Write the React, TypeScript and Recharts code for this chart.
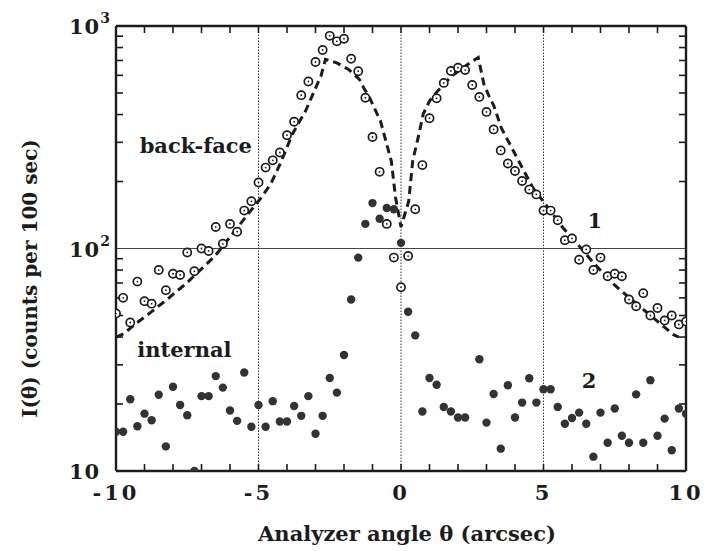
import { ScatterChart, Scatter, XAxis, YAxis, ReferenceLine, ReferenceDot } from 'recharts'

// analyzer angles (arcsec), one reading every 0.25"
const angles = [
  -10, -9.75, -9.5, -9.25, -9, -8.75, -8.5, -8.25, -8, -7.75, -7.5, -7.25, -7, -6.75, -6.5, -6.25,
  -6, -5.75, -5.5, -5.25, -5, -4.75, -4.5, -4.25, -4, -3.75, -3.5, -3.25, -3, -2.75, -2.5, -2.25,
  -2, -1.75, -1.5, -1.25, -1, -0.75, -0.5, -0.25, 0, 0.25, 0.5, 0.75, 1, 1.25, 1.5, 1.75,
  2, 2.25, 2.5, 2.75, 3, 3.25, 3.5, 3.75, 4, 4.25, 4.5, 4.75, 5, 5.25, 5.5, 5.75,
  6, 6.25, 6.5, 6.75, 7, 7.25, 7.5, 7.75, 8, 8.25, 8.5, 8.75, 9, 9.25, 9.5, 9.75, 10,
]

// curve 1: back-face reflection (open circles)
const backFace = [
  51, 60, 46.5, 71, 58, 56.5, 80, 65, 77, 76, 96, 79, 100, 97.5, 125, 105,
  129, 119, 148, 163, 198, 231, 249, 270, 323, 371, 489, 563, 689, 780, 903, 853,
  877, 713, 626, 476, 317, 221, 129, 91, 67, 92.5, 150, 237, 385, 473, 555, 628,
  650, 634, 543, 480, 411, 343, 276, 241, 223, 201, 184, 175, 148, 148, 134, 109,
  111, 89, 99, 80, 91, 75, 77, 75, 59, 55, 63, 50, 54, 47.5, 50, 45.6, 47,
]

// curve 2: internal reflection (filled dots)
const internal = [
  15, 15, 21, 15.9, 18.1, 16.9, 22, 12.9, 23.9, 19.8, 17.8, 10, 21.7, 21.7, 26.7, 23.7,
  18.7, 16.8, 27.7, 15.8, 19.8, 15.8, 20.6, 16.7, 16.7, 19.6, 17.7, 21.7, 14.7, 17.7, 26.2, 22.5,
  33.2, 59, 91, 129, 160, 136, 152, 150, 106, 52, 40.7, 18.5, 26.2, 24.4, 19.4, 18.5,
  17.4, 17.4, null, 31.8, 16.5, 22.2, 12.6, 24.3, 17.4, 20.3, 26.1, 20.3, 23.3, 23.3, 19.4, 16.3,
  17.3, 18.3, 16.3, 11.6, 18.3, 13.4, 19.1, 14.4, 13.4, 22.1, 13.4, 25.6, 14.4, 17.2, 12.4, 19.1, 18.1,
]

// dashed calculated curve
const fitAngles = [
  -10, -9.74, -9.3, -8.75, -8.14, -7.52, -7.0, -6.53, -6.16, -5.48, -4.91, -4.57, -4.24, -3.81,
  -3.35, -2.92, -2.81, -2.65, -2.25, -1.84, -1.46, -1.28, -1.16, -0.72, -0.34, -0.19, 0,
  0.27, 0.41, 0.63, 0.78, 1.0, 1.29, 1.75, 2.1, 2.42, 2.71, 2.91, 3.09, 3.26, 3.52, 3.89,
  4.26, 4.63, 4.99, 5.68, 6.33, 6.76, 7.52, 8.02, 9.09, 9.56, 9.75,
]
const fitCounts = [
  40, 41.3, 46, 52, 60, 70, 81, 92.5, 106, 137, 169, 195, 240, 327,
  415, 554, 595, 708, 683, 638, 576, 519, 494, 374, 247, 169, 125,
  163, 247, 327, 402, 460, 511, 590, 640, 683, 722, 547, 484, 437, 348, 283,
  230, 187, 163, 124, 100, 86, 68, 60, 46, 41, 40,
]

const xLabelTicks = [-10, -5, 0, 5, 10]
const xMinorTicks = [-10, -9, -8, -7, -6, -5, -4, -3, -2, -1, 0, 1, 2, 3, 4, 5, 6, 7, 8, 9, 10]
const yLabelTicks = [10, 100, 1000]
const yMinorTicks = [20, 30, 40, 50, 60, 70, 80, 90, 200, 300, 400, 500, 600, 700, 800, 900]
const gridAngles = [-5, 0, 5]

const FONT = '"DejaVu Serif", "Liberation Serif", serif'
const INK = '#1c1c1c'

const backFaceData = angles.map((x, i) => ({ x, y: backFace[i] }))
const internalData = angles
  .map((x, i) => ({ x, y: internal[i] }))
  .filter((d) => d.y != null)
const fitData = fitAngles.map((x, i) => ({ x, y: fitCounts[i] }))

function OpenDot(p: any) {
  return (
    <g>
      <circle cx={p.cx} cy={p.cy} r={4.1} fill="#fff" stroke={INK} strokeWidth={1.7} />
      <circle cx={p.cx} cy={p.cy} r={0.9} fill={INK} />
    </g>
  )
}

function FilledDot(p: any) {
  return <circle cx={p.cx} cy={p.cy} r={4.2} fill="#333" />
}

function NoLabel() {
  return <g />
}

function PowTick({ x, y, payload }: any) {
  const exp = Math.round(Math.log10(payload.value))
  return (
    <text x={x - 47} y={y + 8} fontFamily={FONT} fontWeight="bold" fontSize={21} fill={INK} letterSpacing={1}>
      10
      {exp > 1 && (
        <tspan dy={-11} fontSize={14} letterSpacing={0}>
          {exp}
        </tspan>
      )}
    </text>
  )
}

function XTitle({ viewBox }: any) {
  return (
    <text x={viewBox.x + viewBox.width / 2 + 6} y={viewBox.y + 70} textAnchor="middle"
      fontFamily={FONT} fontWeight="bold" fontSize={21} fill={INK}>
      Analyzer angle θ (arcsec)
    </text>
  )
}

function YTitle({ viewBox }: any) {
  const cx = 30
  const cy = viewBox.y + viewBox.height / 2 + 30
  return (
    <text x={cx} y={cy} transform={`rotate(-90 ${cx} ${cy})`} textAnchor="middle" dominantBaseline="central"
      fontFamily={FONT} fontWeight="bold" fontSize={20} fill={INK}>
      I(θ) (counts per 100 sec)
    </text>
  )
}

const note = (text: string, size: number) => (p: any) => (
  <text x={p.cx} y={p.cy} textAnchor="middle" dominantBaseline="central"
    fontFamily={FONT} fontWeight="bold" fontSize={size} fill={INK}>
    {text}
  </text>
)

const axisStroke = { stroke: INK, strokeWidth: 2.4 }
const tickStroke = { stroke: INK, strokeWidth: 1.6 }

export default function App() {
  return (
    <div style={{ position: 'absolute', left: 0, top: 0, width: 708, height: 551, background: '#fff' }}>
      <ScatterChart width={708} height={551} margin={{ top: 26, right: 22, bottom: 0, left: 0 }}>
        <XAxis xAxisId="main" dataKey="x" type="number" domain={[-10, 10]} allowDataOverflow
          ticks={xLabelTicks} orientation="bottom" height={80} tickLine={false} tickSize={12}
          axisLine={axisStroke}
          tick={{ fontFamily: FONT, fontWeight: 'bold', fontSize: 21, fill: INK, letterSpacing: 3 }}
          label={<XTitle />} />
        <XAxis xAxisId="bottomTicks" dataKey="x" type="number" domain={[-10, 10]} allowDataOverflow
          ticks={xMinorTicks} interval={0} orientation="bottom" mirror tick={NoLabel} tickSize={7}
          axisLine={false} tickLine={tickStroke} />
        <XAxis xAxisId="top" dataKey="x" type="number" domain={[-10, 10]} allowDataOverflow
          ticks={xMinorTicks} interval={0} orientation="top" mirror tick={NoLabel} tickSize={7}
          axisLine={axisStroke} tickLine={tickStroke} />
        <YAxis yAxisId="main" dataKey="y" type="number" scale="log" domain={[10, 1000]} allowDataOverflow
          ticks={yLabelTicks} width={116} tickLine={false} tickSize={0} tickMargin={0}
          axisLine={axisStroke} tick={<PowTick />} label={<YTitle />} />
        <YAxis yAxisId="leftTicks" dataKey="y" type="number" scale="log" domain={[10, 1000]} allowDataOverflow
          ticks={yMinorTicks} interval={0} orientation="left" mirror tick={NoLabel} tickSize={7}
          axisLine={false} tickLine={tickStroke} />
        <YAxis yAxisId="right" dataKey="y" type="number" scale="log" domain={[10, 1000]} allowDataOverflow
          ticks={yMinorTicks} interval={0} orientation="right" mirror tick={NoLabel} tickSize={7}
          axisLine={axisStroke} tickLine={tickStroke} />

        {gridAngles.map((a) => (
          <ReferenceLine key={a} xAxisId="main" yAxisId="main" x={a} stroke="#333"
            strokeWidth={1} strokeDasharray="1.5 1.5" />
        ))}
        <ReferenceLine xAxisId="main" yAxisId="main" y={100} stroke="#444" strokeWidth={1.2} />

        <Scatter xAxisId="main" yAxisId="main" data={fitData} isAnimationActive={false}
          line={{ stroke: INK, strokeWidth: 3, strokeDasharray: '8 5' }} shape={() => <g />} />
        <Scatter xAxisId="main" yAxisId="main" data={backFaceData} isAnimationActive={false} shape={OpenDot} />
        <Scatter xAxisId="main" yAxisId="main" data={internalData} isAnimationActive={false} shape={FilledDot} />

        <ReferenceDot xAxisId="main" yAxisId="main" x={-7.2} y={290} r={0} shape={note('back-face', 21)} />
        <ReferenceDot xAxisId="main" yAxisId="main" x={-7.6} y={35} r={0} shape={note('internal', 21)} />
        <ReferenceDot xAxisId="main" yAxisId="main" x={6.8} y={134} r={0} shape={note('1', 21)} />
        <ReferenceDot xAxisId="main" yAxisId="main" x={6.6} y={25.5} r={0} shape={note('2', 21)} />
      </ScatterChart>
    </div>
  )
}
